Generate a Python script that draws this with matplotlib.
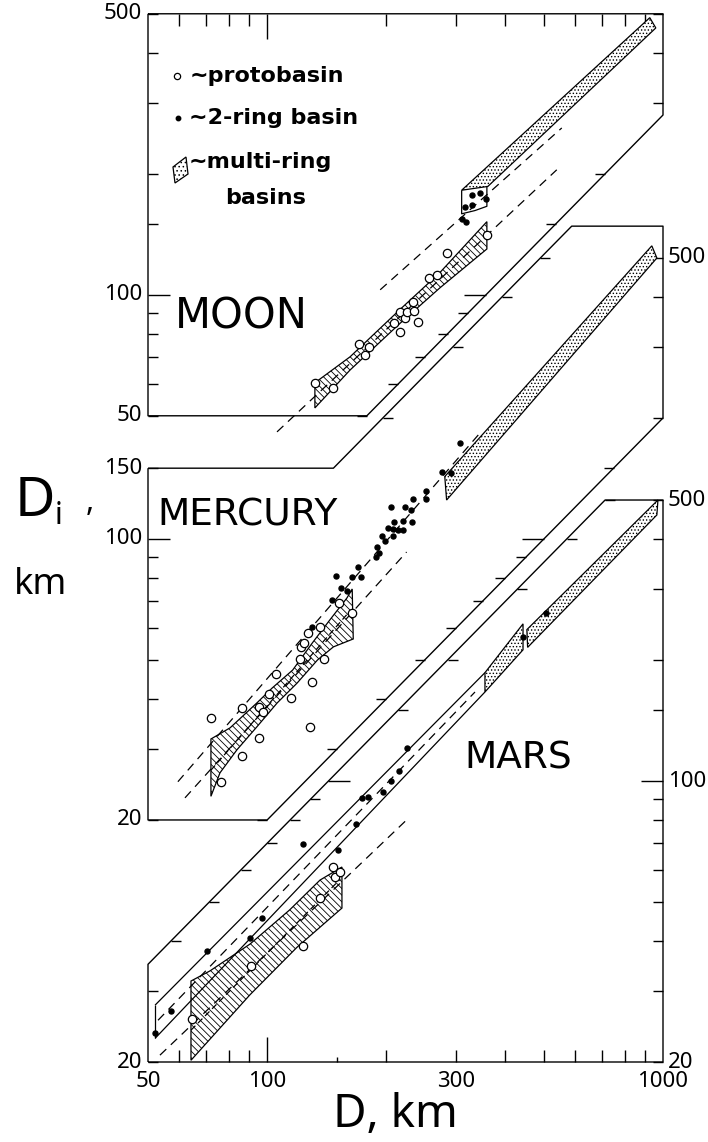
import numpy as np
import matplotlib.pyplot as plt
from matplotlib.patches import Polygon

plt.rcParams['font.family'] = ['Noto Sans', 'DejaVu Sans']
plt.rcParams['hatch.linewidth'] = 0.6

# each planet sits on the same log-log frame, shifted up by a factor
mars_f = 1.0
mercury_f = 4.0
moon_f = 16.2

d_ticks = [60, 70, 80, 90, 100, 150, 200, 300, 400, 500, 600, 700, 800, 900]
di_ticks = [20, 30, 40, 50, 60, 70, 80, 90, 100, 150, 200, 300, 400, 500]

# ---------------- Moon
moon_outline_d = [50, 1000, 1000, 178.6, 50]
moon_outline_di = [500, 500, 280, 50, 50]
moon_left_d, moon_left_di = [50, 50], [50, 500]
moon_right_d, moon_right_di = [178.6, 1000, 1000], [50, 280, 500]

moon_proto_d = [132, 147, 171, 177, 181, 209, 216, 216, 223, 225, 235, 240, 233, 256, 268, 284, 359]
moon_proto_di = [60.4, 58.7, 75.5, 70.9, 74.2, 85.2, 80.9, 90.7, 87.7, 90.7, 91.3, 85.7, 96, 110, 112, 127, 141]
moon_ring2_d = [329, 345, 316, 329, 310, 318, 357]
moon_ring2_di = [177, 179, 165, 167, 154, 152, 173]
moon_hatch_d = [132, 162, 216, 273, 359, 359, 273, 216, 162, 132]
moon_hatch_di = [60.4, 70.1, 91.7, 113.5, 152, 130, 104, 84.7, 65, 52.3]
moon_multi_d = [310, 926, 959, 361]
moon_multi_di = [182, 489, 461, 186]
moon_box_d = [310, 310, 335, 359, 359]
moon_box_di = [182, 159, 162, 166, 186]
moon_dash_d = [[105.9, 539], [193, 555]]
moon_dash_di = [[45.6, 204.6], [102.9, 260]]

# ---------------- Mercury
mercury_outline_d = [50, 147, 588, 1000, 1000, 100, 50]
mercury_outline_di = [150, 150, 600, 600, 200, 20, 20]
mercury_left_d, mercury_left_di = [50, 50, 147, 588], [20, 150, 150.01, 600]
mercury_right_d, mercury_right_di = [100, 1000, 1000], [20, 200, 600]

mercury_proto_d = [72.1, 76.5, 86.4, 86.4, 95.4, 95.4, 97.6, 101, 105, 115,
                   121, 122, 124, 127, 130, 128, 136, 139, 152, 164]
mercury_proto_di = [35.9, 24.9, 38.0, 28.9, 32.0, 38.2, 37.1, 41.2, 46.2, 40.2,
                    50.3, 53.9, 55.1, 58.4, 44.1, 34.1, 60.4, 50.3, 69.3, 65.5]
mercury_ring2_d = [307, 276, 291, 233, 252, 252, 205, 223, 231, 209, 220, 232, 202, 208, 214,
                   220, 195, 198, 208, 189, 192, 188, 170, 149, 164, 173, 154, 159, 146, 130]
mercury_ring2_di = [173, 147, 146, 126, 132, 126, 120, 120, 118, 110, 111, 110, 106.5, 106, 105,
                    105, 102, 98.9, 102, 95.5, 92.3, 90.2, 85.2, 80.9, 80.5, 80.5, 75.5, 74.2, 70.5, 60.4]
mercury_hatch_d = [72.1, 80.6, 94.2, 103, 116, 130, 144, 159, 164,
                   165, 147, 134, 119, 106, 94.2, 83.9, 76.0, 72.1]
mercury_hatch_di = [31.8, 33.9, 39.1, 42.6, 47.2, 55.1, 62.9, 71.3, 75.1,
                    56.4, 53.9, 50.0, 43.8, 39.1, 34.1, 29.9, 26.2, 22.9]
mercury_mid_d, mercury_mid_di = [72.1, 161], [26.6, 65.8]
mercury_multi_d = [281, 937, 965, 284]
mercury_multi_di = [143, 536, 500, 125]
mercury_dash_d = [[59.5, 345], [62.0, 225]]
mercury_dash_di = [[24.9, 183.6], [22.7, 92.8]]

# ---------------- Mars
mars_outline_d = [50, 1000, 1000, 714, 50]
mars_outline_di = [20, 20, 500, 500, 35]
mars_left_d, mars_left_di = [50, 50, 714], [20, 35, 500]
mars_right_d, mars_right_di = [1000, 1000], [20, 500]

mars_proto_d = [64.6, 91.0, 123, 136, 147, 148, 153]
mars_proto_di = [25.6, 34.7, 38.9, 51.2, 61.1, 57.7, 59.4]
mars_ring2_d = [52.1, 57.2, 70.5, 90.5, 97.0, 123, 151, 168, 174, 180, 196, 205, 215, 225, 443, 506]
mars_ring2_di = [23.6, 26.8, 37.8, 40.7, 45.6, 69.7, 67.4, 78.2, 90.7, 91.3, 93.9, 100, 106, 121, 228, 262]
mars_hatch_d = [64.2, 71.7, 90.5, 114, 136, 154.5, 154.5, 119, 90.5, 64.2]
mars_hatch_di = [31.8, 33.7, 39.3, 47.8, 56.7, 61.1, 48.3, 38.6, 29.4, 20.2]
mars_mid_d, mars_mid_di = [64.2, 153], [24.0, 57.0]
mars_box_d = [355, 443, 443, 355]
mars_box_di = [186, 246, 212, 166.5]
mars_multi_d = [453, 971, 965, 455]
mars_multi_di = [238, 500, 459, 215]
mars_solid_d = [[52.1, 355], [52.1, 355], [52.1, 52.1]]
mars_solid_di = [[27.7, 186], [22.9, 166.5], [22.9, 27.7]]
mars_dash_d = [[53.0, 335], [53.6, 225]]
mars_dash_di = [[25.4, 166.5], [20.8, 80]]

fig = plt.figure(figsize=(7.08, 11.42), dpi=100)
ax = fig.add_axes([148 / 708, 80 / 1142, 515 / 708, 1048 / 1142])
ax.set_xscale('log')
ax.set_yscale('log')
ax.set_xlim(50, 1000)
ax.set_ylim(20, 8090)
ax.axis('off')

PX_X = 515 / np.log10(1000 / 50)
PX_Y = 1048 / np.log10(8090 / 20)
LW = 1.0


def hstep(px):
    return 10 ** (px / PX_X)


def vstep(px):
    return 10 ** (px / PX_Y)


def seg(xs, ys, **kw):
    kw.setdefault('color', 'black')
    kw.setdefault('lw', LW)
    ax.plot(xs, ys, solid_capstyle='butt', clip_on=False, **kw)


def chain_at(cd, cdi, v):
    return 10 ** np.interp(np.log10(v), np.log10(cdi), np.log10(cd))


def panel(f, out_d, out_di, left, right, lo, hi):
    xs = list(out_d) + [out_d[0]]
    ys = [v * f for v in list(out_di) + [out_di[0]]]
    seg(xs, ys)
    for v in di_ticks:
        if v < lo or v > hi:
            continue
        L = 22 if v == 100 else 10
        dl = chain_at(left[0], left[1], v)
        seg([dl, dl * hstep(L)], [v * f, v * f])
        dr = chain_at(right[0], right[1], v)
        seg([dr / hstep(L), dr], [v * f, v * f])


def patch(d, di, f, hatch, z=3):
    pts = np.column_stack([d, np.asarray(di) * f])
    ax.add_patch(Polygon(pts, closed=True, facecolor='white', edgecolor='black',
                         hatch=hatch, lw=0.9, zorder=z))


def dashed(ds, dis, f, dashes=(7, 5), z=4):
    for d, di in zip(ds, dis):
        ax.plot(d, np.asarray(di) * f, color='black', lw=0.9, dashes=dashes, zorder=z)


def points(d, di, f, filled):
    if filled:
        ax.plot(d, np.asarray(di) * f, 'o', ms=3.6, mfc='black', mec='black', zorder=6)
    else:
        ax.plot(d, np.asarray(di) * f, 'o', ms=6.0, mfc='white', mec='black', mew=0.9, zorder=5)


# panel frames with ticks along every edge
panel(moon_f, moon_outline_d, moon_outline_di, (moon_left_d, moon_left_di),
      (moon_right_d, moon_right_di), 50, 500)
panel(mercury_f, mercury_outline_d, mercury_outline_di, (mercury_left_d, mercury_left_di),
      (mercury_right_d, mercury_right_di), 20, 600)
panel(mars_f, mars_outline_d, mars_outline_di, (mars_left_d, mars_left_di),
      (mars_right_d, mars_right_di), 20, 500)

# D ticks on the top (Moon) and bottom (Mars) edges
for d in d_ticks:
    L = 25 if d == 100 else (5 if d == 150 else 12)
    seg([d, d], [20, 20 * vstep(L)])
    if d != 150:
        seg([d, d], [500 * moon_f, 500 * moon_f / vstep(L)])

HATCH = '\\\\\\\\\\'
STIP = '.....'

# Moon
patch(moon_hatch_d, moon_hatch_di, moon_f, HATCH)
patch(moon_multi_d, moon_multi_di, moon_f, STIP)
seg(moon_box_d, np.asarray(moon_box_di) * moon_f, lw=0.9, zorder=4)
dashed(moon_dash_d, moon_dash_di, moon_f)
points(moon_proto_d, moon_proto_di, moon_f, False)
points(moon_ring2_d, moon_ring2_di, moon_f, True)

# Mercury
patch(mercury_hatch_d, mercury_hatch_di, mercury_f, HATCH)
patch(mercury_multi_d, mercury_multi_di, mercury_f, STIP)
dashed(mercury_dash_d, mercury_dash_di, mercury_f)
dashed([mercury_mid_d], [mercury_mid_di], mercury_f, dashes=(5, 3))
points(mercury_proto_d, mercury_proto_di, mercury_f, False)
points(mercury_ring2_d, mercury_ring2_di, mercury_f, True)

# Mars
patch(mars_hatch_d, mars_hatch_di, mars_f, HATCH)
patch(mars_box_d, mars_box_di, mars_f, STIP)
patch(mars_multi_d, mars_multi_di, mars_f, STIP)
for d, di in zip(mars_solid_d, mars_solid_di):
    seg(d, np.asarray(di) * mars_f, lw=0.9, zorder=4)
dashed(mars_dash_d, mars_dash_di, mars_f)
dashed([mars_mid_d], [mars_mid_di], mars_f, dashes=(5, 3))
points(mars_proto_d, mars_proto_di, mars_f, False)
points(mars_ring2_d, mars_ring2_di, mars_f, True)

# axis numbers
num = dict(fontsize=16, color='black')
lx = 50 / hstep(6)
for v, f in [(500, moon_f), (100, moon_f), (50, moon_f), (150, mercury_f), (100, mercury_f),
             (20, mercury_f), (20, mars_f)]:
    ax.text(lx, v * f, str(v), ha='right', va='center', **num)
rx = 1000 * hstep(5)
for v, f in [(500, mercury_f), (500, mars_f), (100, mars_f), (20, mars_f)]:
    ax.text(rx, v * f, str(v), ha='left', va='center', **num)
for d in [50, 100, 300, 1000]:
    ax.text(d, 20 / vstep(25), str(d), ha='center', va='baseline', **num)

# planet names
name = dict(transform=ax.transAxes, va='center', ha='left', family='DejaVu Sans')
ax.text(0.052, 0.711, 'MOON', fontsize=30, **name)
ax.text(0.019, 0.521, 'MERCURY', fontsize=27, **name)
ax.text(0.615, 0.290, 'MARS', fontsize=27, **name)

# legend
leg = dict(fontsize=16, fontweight='bold', va='center', ha='left', transform=ax.transAxes,
           family='DejaVu Sans')
ax.plot([0.0563], [0.9408], 'o', ms=4.5, mfc='white', mec='black', mew=0.9,
        transform=ax.transAxes, clip_on=False)
ax.text(0.080, 0.9408, '~protobasin', **leg)
ax.plot([0.0583], [0.9008], 'o', ms=3.2, mfc='black', mec='black',
        transform=ax.transAxes, clip_on=False)
ax.text(0.080, 0.9008, '~2-ring basin', **leg)
icon = np.array([[173, 167], [186, 157], [188, 174], [175, 183]], dtype=float)
icon[:, 0] = (icon[:, 0] - 148) / 515
icon[:, 1] = (1062 - icon[:, 1]) / 1048
ax.add_patch(Polygon(icon, closed=True, facecolor='white', edgecolor='black', lw=0.9,
                     hatch='....', transform=ax.transAxes, clip_on=False))
ax.text(0.078, 0.8585, '~multi-ring', **leg)
ax.text(0.149, 0.8245, 'basins', **leg)

# axis titles
fig.text(395 / 708, 1 - 1127 / 1142, 'D, km', fontsize=33, ha='center', va='baseline')
fig.text(15 / 708, 1 - 502 / 1142, 'D', fontsize=40, ha='left', va='center')
fig.text(55 / 708, 1 - 516 / 1142, 'i', fontsize=22, ha='left', va='center')
fig.text(86 / 708, 1 - 503 / 1142, ',', fontsize=22, ha='left', va='center')
fig.text(14 / 708, 1 - 585 / 1142, 'km', fontsize=26, ha='left', va='center')

fig.savefig('out.png', dpi=100)
